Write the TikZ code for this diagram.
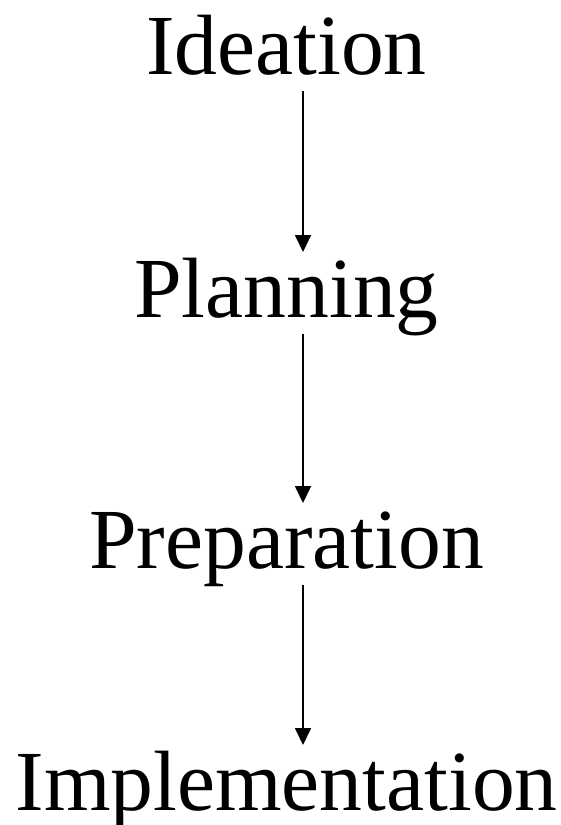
\documentclass[tikz,border=0pt]{standalone}
\usepackage{fontspec}
\setmainfont{Liberation Serif}
\usetikzlibrary{arrows.meta}

\begin{document}
\begin{tikzpicture}[x=1pt, y=1pt,
	stage/.style={anchor=base, inner sep=0pt, font=\fontsize{42.8}{50}\selectfont},
	flow/.style={line width=0.85pt, arrows={-{Triangle[width=8pt,length=8.5pt]}}}]
	\useasboundingbox (0,0) rectangle (280.5,-412.5);
	\node [stage] (ide) at (143.25,-37) {Ideation};
	\node [stage] (pla) at (143.25,-158.5) {Planning};
	\node [stage] (pre) at (143.25,-284) {Preparation};
	\node [stage] (imp) at (143.25,-405) {Implementation};
	\draw [flow] ([xshift=8.25pt, yshift=-8.5pt]ide.base) -- ([xshift=8.25pt, yshift=32.5pt]pla.base);
	\draw [flow] ([xshift=8.25pt, yshift=-8.5pt]pla.base) -- ([xshift=8.25pt, yshift=32.5pt]pre.base);
	\draw [flow] ([xshift=8.25pt, yshift=-8.5pt]pre.base) -- ([xshift=8.25pt, yshift=32.5pt]imp.base);
\end{tikzpicture}
\end{document}
